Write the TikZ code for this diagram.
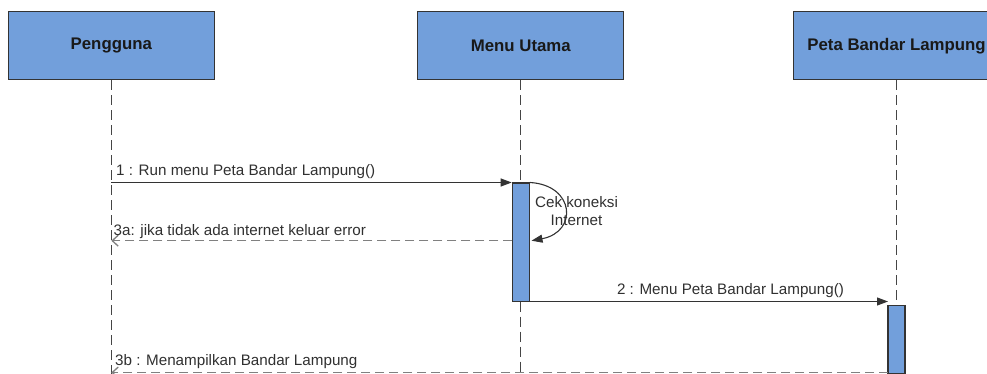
\documentclass[tikz,border=0pt]{standalone}
\usepackage{fontspec}
\setmainfont{Liberation Sans}
\usetikzlibrary{arrows.meta}
\definecolor{boxfill}{HTML}{729FDB}
\definecolor{edgec}{HTML}{333333}
\definecolor{lifec}{HTML}{454545}
\definecolor{retc}{HTML}{808080}
\definecolor{txtc}{HTML}{303030}
\tikzset{
  objbox/.style={draw=edgec, line width=1.3pt, fill=boxfill, minimum width=206pt, minimum height=68pt, inner sep=0pt, font=\fontsize{16.8}{20}\selectfont\bfseries, text=black!90},
  actbar/.style={draw=edgec, line width=1.2pt, fill=boxfill, minimum width=17pt, inner sep=0pt},
  lifeline/.style={draw=lifec, line width=1.2pt, dash pattern=on 10pt off 5pt},
  msg/.style={draw=edgec, line width=1.1pt, -{Triangle[length=11pt,width=8pt]}},
  retmsg/.style={draw=retc, line width=1.3pt, dash pattern=on 9pt off 5pt, -{Straight Barb[length=6pt,width=11pt]}},
  lbl/.style={inner sep=0pt, text=txtc, font=\fontsize{15.2}{18}\selectfont}
}
\begin{document}
\begin{tikzpicture}[x=1pt,y=-1pt]
\useasboundingbox (0,0) rectangle (987,374);
\clip (0,0) rectangle (987,374);
% objects
\node[objbox] (peng) at (111.3,45.8) {Pengguna};
\node[objbox] (menu) at (520.8,45.8) {Menu Utama};
\node[objbox] (peta) at (896.5,45.8) {Peta Bandar Lampung};
% activation bars
\node[actbar, minimum height=118pt, anchor=north] (act1) at (520.8,182.5) {};
\node[actbar, minimum height=68pt, anchor=north] (act2) at (896.5,305) {};
% lifeline ends
\coordinate (pengend) at (111.3,376);
\coordinate (menuend) at (520.8,376);
% lifelines
\draw[lifeline] (peng.south) -- (pengend);
\draw[lifeline] (menu.south) -- (act1.north);
\draw[lifeline] (act1.south) -- (menuend);
\draw[lifeline] (peta.south) -- (act2.north);
% message points
\coordinate (m1s) at (111.3,182.5);
\coordinate (s1e) at (531.5,240.7);
\coordinate (r3as) at (512.3,240.7);
\coordinate (r3ae) at (111.3,240.7);
\coordinate (m2s) at (529.3,301.5);
\coordinate (m2e) at (888,301.5);
\coordinate (r3bs) at (888,372.5);
\coordinate (r3be) at (111.3,372.5);
% messages
\draw[msg] (m1s) -- (act1.north west);
\draw[msg] (act1.north east) .. controls (575,185) and (578,232) .. (s1e);
\draw[retmsg] (r3as) -- (r3ae);
\draw[msg] (m2s) -- (m2e);
\draw[retmsg] (r3bs) -- (r3be);
% labels
\node[lbl, anchor=base west] (l1) at (116,175.5) {1 : Run menu Peta Bandar Lampung()};
\node[lbl, align=center] (lself) at (576.5,211) {Cek koneksi\\Internet};
\node[lbl, anchor=base west] (l3a) at (113.5,235) {3a: jika tidak ada internet keluar error};
\node[lbl, anchor=base] (l2) at (730.5,294) {2 : Menu Peta Bandar Lampung()};
\node[lbl, anchor=base west] (l3b) at (115,365.5) {3b : Menampilkan Bandar Lampung};
\end{tikzpicture}
\end{document}
